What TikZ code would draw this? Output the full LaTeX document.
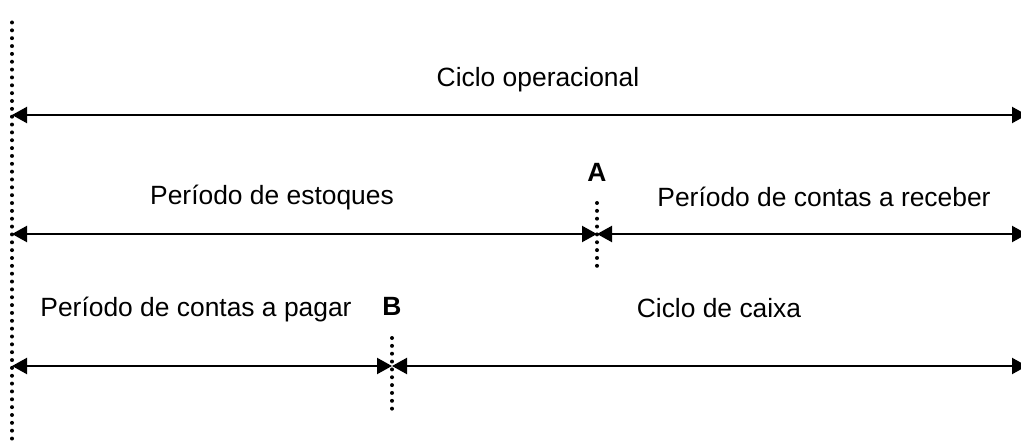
\documentclass[tikz,border=0pt]{standalone}
\usepackage{fontspec}
\setmainfont{Liberation Sans}
\usetikzlibrary{arrows.meta}
\begin{document}
\begin{tikzpicture}[x=1pt,y=-1pt,
  span/.style={line width=2.2pt,{Triangle[length=15pt,width=16pt]}-{Triangle[length=15pt,width=16pt]}},
  marker/.style={line width=4pt,line cap=round,dash pattern=on 0pt off 7.85pt},
  lbl/.style={font=\fontsize{26.4}{30}\selectfont,inner sep=0pt,anchor=base},
  letter/.style={font=\fontsize{26.4}{30}\selectfont\bfseries,inner sep=0pt,anchor=base}]
\useasboundingbox (0,0) rectangle (1021,441);
% time reference line on the left
\coordinate (top) at (12,22.5);
\coordinate (bot) at (12,445);
\draw[marker] (top) -- (bot);
% row ends
\coordinate (L1) at (12,115);  \coordinate (R1) at (1027,115);
\coordinate (L2) at (12,234);  \coordinate (R2) at (1027,234);
\coordinate (L3) at (12,366);  \coordinate (R3) at (1027,366);
% division points
\coordinate (A) at (597,234);
\coordinate (Atop) at (597,203); \coordinate (Abot) at (597,273);
\coordinate (B) at (392,366);
\coordinate (Btop) at (392,338); \coordinate (Bbot) at (392,411);
\draw[marker] (Atop) -- (Abot);
\draw[marker] (Btop) -- (Bbot);
% spans
\draw[span] (L1) -- (R1);
\draw[span] (L2) -- (A);
\draw[span] (A) -- (R2);
\draw[span] (L3) -- (B);
\draw[span] (B) -- (R3);
% labels
\node[lbl] (op) at (538,87) {Ciclo operacional};
\node[lbl] (est) at (272,205) {Período de estoques};
\node[lbl] (rec) at (824,207) {Período de contas a receber};
\node[lbl] (pag) at (196,316) {Período de contas a pagar};
\node[lbl] (cx) at (719,317) {Ciclo de caixa};
\node[letter] (la) at (597,182) {A};
\node[letter] (lb) at (392,315) {B};
\end{tikzpicture}
\end{document}
